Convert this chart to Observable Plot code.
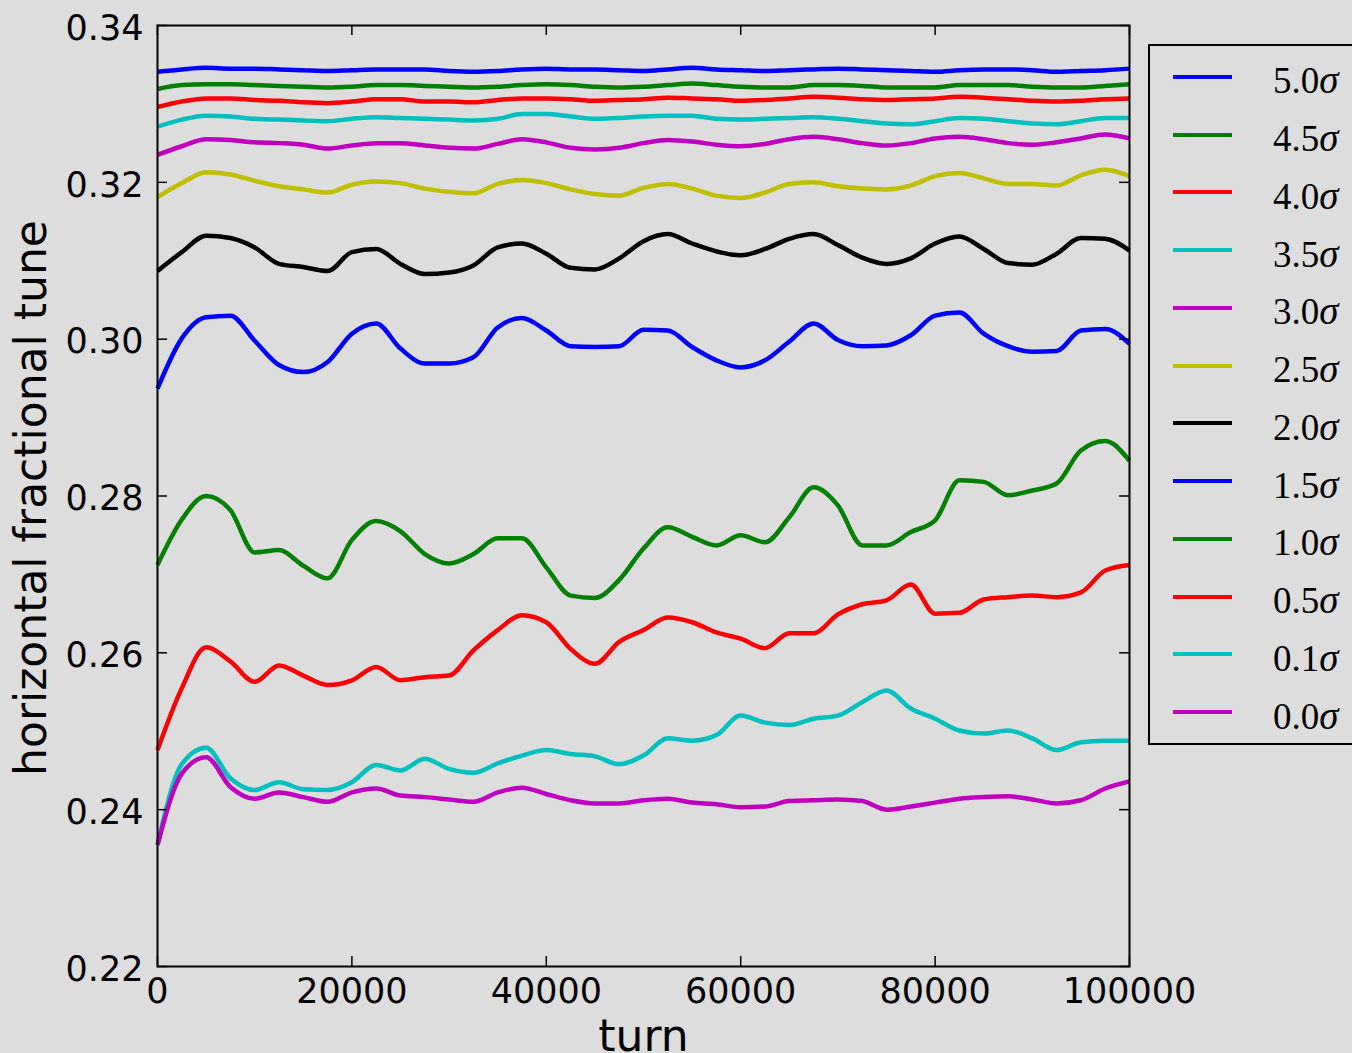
<!DOCTYPE html>
<html>
<head>
<meta charset="utf-8">
<script src="https://cdn.jsdelivr.net/npm/d3@7"></script>
<script src="https://cdn.jsdelivr.net/npm/@observablehq/plot@0.6"></script>
<style>
  html, body { margin: 0; padding: 0; background: #dddddd; }
  #wrap { position: relative; width: 1352px; height: 1053px; overflow: hidden; }
  #legend { position: absolute; left: 1148px; top: 44px; width: 230px; height: 695px;
            border: 2px solid #000; background: #dddddd; padding-top: 2px; box-sizing: content-box; }
  .row { height: 57.75px; display: flex; align-items: center; }
  .sw { margin-left: 23px; width: 59px; height: 4px; }
  .lab { margin-left: 41px; font-family: "Liberation Serif", "DejaVu Serif", serif; font-size: 37px;
         color: #000; position: relative; top: 3px; white-space: nowrap; }
  .lab i { font-size: 39px; }
</style>
</head>
<body>
<div id="wrap"><div id="chart"></div><div id="legend"></div></div>
<script>
// ---------------- data ----------------
const turns = [0, 2500, 5000, 7500, 10000, 12500, 15000, 17500, 20000, 22500, 25000, 27500, 30000,
  32500, 35000, 37500, 40000, 42500, 45000, 47500, 50000, 52500, 55000, 57500, 60000, 62500, 65000,
  67500, 70000, 72500, 75000, 77500, 80000, 82500, 85000, 87500, 90000, 92500, 95000, 97500, 100000];

const seriesLabels = ["5.0", "4.5", "4.0", "3.5", "3.0", "2.5", "2.0", "1.5", "1.0", "0.5", "0.1", "0.0"];
const seriesColors = ["#0000ff", "#008000", "#ff0000", "#00bfbf", "#bf00bf", "#bfbf00",
                      "#000000", "#0000ff", "#008000", "#ff0000", "#00bfbf", "#bf00bf"];

const s50 = [.3341, .3344, .3346, .3345, .3345, .3344, .3343, .3342, .3343, .3344, .3344, .3344, .3342, .3341,
  .3342, .3344, .3345, .3344, .3344, .3343, .3342, .3344, .3346, .3344, .3343, .3342, .3343, .3344, .3345,
  .3344, .3343, .3342, .3341, .3343, .3344, .3344, .3343, .3341, .3342, .3343, .3345];
const s45 = [.3319, .3324, .3325, .3325, .3324, .3323, .3322, .3321, .3322, .3324, .3324, .3323, .3322, .3321,
  .3322, .3324, .3325, .3324, .3322, .3321, .3322, .3324, .3326, .3324, .3322, .3321, .3321, .3324, .3324,
  .3323, .3321, .3321, .3321, .3324, .3324, .3324, .3322, .3321, .3321, .3323, .3325];
const s40 = [.3296, .3303, .3307, .3307, .3305, .3304, .3302, .3301, .3303, .3306, .3306, .3303, .3303, .3302,
  .3305, .3307, .3307, .3306, .3304, .3305, .3306, .3308, .3307, .3306, .3304, .3305, .3307, .3309, .3308,
  .3306, .3305, .3306, .3307, .3309, .3308, .3306, .3304, .3303, .3304, .3306, .3307];
const s35 = [.3271, .3280, .3285, .3284, .3281, .3280, .3279, .3278, .3281, .3283, .3282, .3281, .3280, .3279,
  .3281, .3287, .3287, .3284, .3281, .3282, .3284, .3285, .3285, .3281, .3280, .3281, .3282, .3283, .3281,
  .3278, .3275, .3274, .3278, .3282, .3281, .3278, .3275, .3274, .3278, .3282, .3282];
const s30 = [.3235, .3246, .3255, .3254, .3251, .3250, .3248, .3243, .3247, .3250, .3250, .3247, .3244, .3243,
  .3249, .3255, .3251, .3244, .3242, .3244, .3250, .3254, .3252, .3248, .3246, .3249, .3255, .3258, .3255,
  .3250, .3247, .3250, .3256, .3258, .3255, .3250, .3248, .3251, .3256, .3261, .3256];
const s25 = [.3181, .3199, .3213, .3210, .3202, .3195, .3191, .3187, .3197, .3201, .3199, .3192, .3188, .3186,
  .3198, .3203, .3199, .3191, .3185, .3183, .3193, .3198, .3192, .3183, .3180, .3187, .3198, .3200, .3195,
  .3192, .3191, .3196, .3208, .3212, .3205, .3198, .3198, .3196, .3209, .3216, .3208];
const s20 = [.3087, .3111, .3132, .3129, .3117, .3096, .3092, .3087, .3111, .3115, .3096, .3083, .3085, .3094,
  .3117, .3122, .3109, .3091, .3089, .3103, .3125, .3134, .3122, .3112, .3107, .3115, .3128, .3134, .3120,
  .3104, .3096, .3103, .3122, .3131, .3115, .3097, .3095, .3109, .3129, .3128, .3113];
const s15 = [.2937, .3001, .3028, .3030, .2998, .2967, .2958, .2971, .3007, .3020, .2988, .2969, .2969, .2977,
  .3015, .3027, .3011, .2991, .2990, .2991, .3012, .3011, .2990, .2973, .2964, .2973, .2997, .3020, .2999,
  .2991, .2992, .3005, .3030, .3034, .3007, .2991, .2984, .2985, .3011, .3013, .2994];
const s10 = [.2712, .2770, .2800, .2782, .2728, .2731, .2711, .2695, .2744, .2768, .2755, .2726, .2714, .2726,
  .2746, .2746, .2709, .2673, .2670, .2693, .2733, .2760, .2748, .2737, .2750, .2741, .2773, .2811, .2788,
  .2737, .2737, .2754, .2769, .2820, .2818, .2801, .2807, .2816, .2858, .2870, .2845];
const s05 = [.2476, .2555, .2607, .2589, .2563, .2584, .2571, .2559, .2565, .2582, .2565, .2569, .2571, .2603,
  .2629, .2648, .2639, .2605, .2586, .2614, .2629, .2645, .2639, .2626, .2618, .2606, .2625, .2625, .2649,
  .2662, .2667, .2687, .2650, .2651, .2668, .2671, .2673, .2671, .2677, .2705, .2712];
const s01 = [.2355, .2458, .2479, .2440, .2425, .2435, .2426, .2425, .2435, .2457, .2450, .2465, .2452, .2447,
  .2459, .2469, .2476, .2471, .2468, .2458, .2469, .2491, .2488, .2495, .2520, .2511, .2508, .2516, .2520,
  .2537, .2552, .2529, .2516, .2501, .2497, .2501, .2491, .2476, .2486, .2488, .2488];
const s00 = [.2355, .2446, .2467, .2429, .2414, .2422, .2416, .2410, .2422, .2427, .2418, .2416, .2413, .2410,
  .2422, .2428, .2420, .2412, .2408, .2408, .2412, .2414, .2409, .2407, .2403, .2404, .2411, .2412, .2413,
  .2411, .2400, .2404, .2409, .2414, .2416, .2417, .2413, .2408, .2412, .2427, .2436];

const seriesValues = [s50, s45, s40, s35, s30, s25, s20, s15, s10, s05, s01, s00];

const xTicks = [0, 20000, 40000, 60000, 80000, 100000];
const yTicks = [0.22, 0.24, 0.26, 0.28, 0.30, 0.32, 0.34];
const xLabel = "turn";
const yLabel = "horizontal fractional tune";

// ---------------- chart ----------------
const W = 1352, H = 1053, mL = 157, mR = 223, mT = 25, mB = 87;
const plotW = W - mL - mR, plotH = H - mT - mB;
const tick = 10;

const lineMarks = seriesValues.map((vals, i) =>
  Plot.line(turns.map((t, k) => ({turn: t, v: vals[k]})), {
    x: "turn", y: "v", stroke: seriesColors[i], strokeWidth: 4.5,
    curve: "monotone-x", strokeLinejoin: "round", strokeLinecap: "butt"
  })
);

const chart = Plot.plot({
  width: W, height: H,
  marginLeft: mL, marginRight: mR, marginTop: mT, marginBottom: mB,
  style: {background: "#dddddd", fontFamily: "DejaVu Sans, sans-serif", fontSize: "35px", color: "#000", overflow: "visible"},
  x: {domain: [0, 100000]},
  y: {domain: [0.22, 0.34]},
  marks: [
    ...lineMarks,
    Plot.ruleX(xTicks, {x: d => d, insetTop: plotH - tick, stroke: "#000", strokeWidth: 1.5}),
    Plot.ruleX(xTicks, {x: d => d, insetBottom: plotH - tick, stroke: "#000", strokeWidth: 1.5}),
    Plot.ruleY(yTicks, {y: d => d, insetRight: plotW - tick, stroke: "#000", strokeWidth: 1.5}),
    Plot.ruleY(yTicks, {y: d => d, insetLeft: plotW - tick, stroke: "#000", strokeWidth: 1.5}),
    Plot.frame({stroke: "#000", strokeWidth: 2}),
    Plot.axisX({ticks: xTicks, tickSize: 0, tickPadding: 12, tickFormat: d => String(d), label: null, fill: "#000"}),
    Plot.axisY({ticks: yTicks, tickSize: 0, tickPadding: 14, tickFormat: d3.format(".2f"), label: null, dy: 3, fill: "#000"}),
    Plot.text([xLabel], {frameAnchor: "bottom", dy: 84, lineAnchor: "bottom", fontSize: 44, fill: "#000"}),
    Plot.text([yLabel], {frameAnchor: "left", dx: -143, dy: 2, rotate: -90, textAnchor: "middle", lineAnchor: "top", fontSize: 44, fill: "#000"})
  ]
});
document.getElementById("chart").appendChild(chart);

// ---------------- legend ----------------
const legend = document.getElementById("legend");
seriesLabels.forEach((lab, i) => {
  const row = document.createElement("div");
  row.className = "row";
  const sw = document.createElement("div");
  sw.className = "sw";
  sw.style.background = seriesColors[i];
  const t = document.createElement("span");
  t.className = "lab";
  t.innerHTML = lab + "<i>σ</i>";
  row.appendChild(sw);
  row.appendChild(t);
  legend.appendChild(row);
});
</script>
</body>
</html>
